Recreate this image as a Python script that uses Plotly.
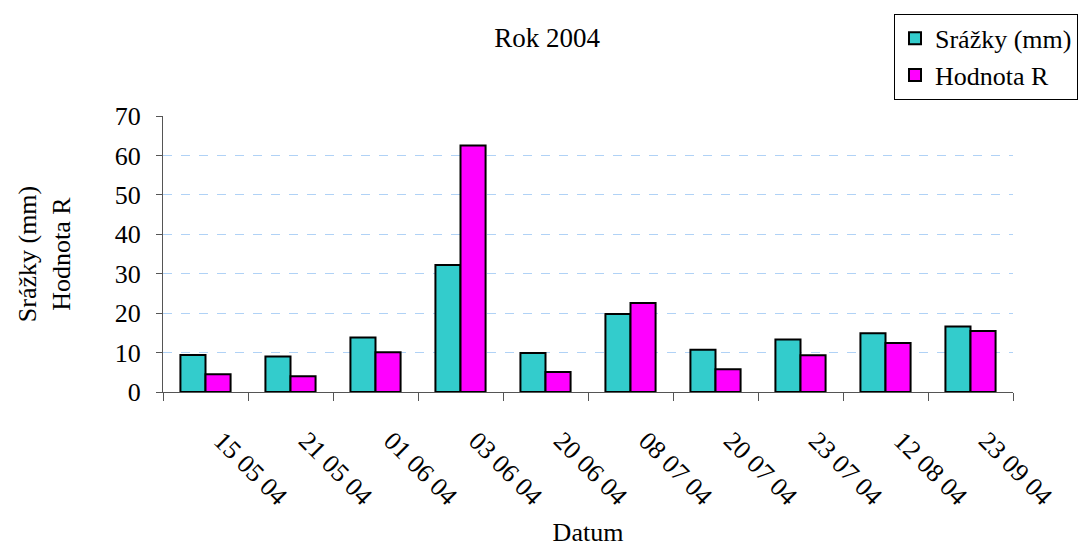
import plotly.graph_objects as go

# Dates of the measured rain events
datum = ["15 05 04", "21 05 04", "01 06 04", "03 06 04", "20 06 04",
         "08 07 04", "20 07 04", "23 07 04", "12 08 04", "23 09 04"]
# Precipitation totals (mm)
srazky = [9.4, 9.0, 13.8, 32.2, 9.9, 19.8, 10.7, 13.3, 14.9, 16.6]
# Rain erosivity factor R
hodnota_r = [4.5, 4.0, 10.1, 62.5, 5.1, 22.6, 5.8, 9.3, 12.4, 15.5]

y_ticks = [0, 10, 20, 30, 40, 50, 60, 70]

FONT = "Liberation Serif"
FS = 26

fig = go.Figure()
fig.add_trace(go.Bar(
    x=datum, y=srazky, name="Srážky (mm)", legendgroup="a",
    marker=dict(color="#33CCCC", line=dict(color="black", width=2)),
))
fig.add_trace(go.Bar(
    x=datum, y=hodnota_r, name="Hodnota R", legendgroup="b",
    marker=dict(color="#FF00FF", line=dict(color="black", width=2)),
))

fig.update_layout(
    width=1080, height=547,
    margin=dict(l=163, r=67, t=116, b=155, autoexpand=False),
    paper_bgcolor="white", plot_bgcolor="white",
    font=dict(family=FONT, size=FS, color="black"),
    barmode="group", bargap=0.41, bargroupgap=0,
    title=dict(text="Rok 2004", x=0.5065, xanchor="center", y=0.932, yanchor="middle",
               font=dict(family=FONT, size=27)),
    legend=dict(
        x=0.86, y=1.37, xanchor="left", yanchor="top",
        bordercolor="black", borderwidth=1, bgcolor="white",
        font=dict(family=FONT, size=FS), tracegroupgap=0,
        traceorder="grouped", itemwidth=30,
    ),
    xaxis=dict(
        type="category", tickangle=45, tickson="boundaries",
        ticks="outside", ticklen=8, tickcolor="#555555",
        showline=True, linecolor="#555555", linewidth=1,
        showgrid=False, ticklabelstandoff=22, ticklabelshift=16,
        automargin=False,
        tickfont=dict(family=FONT, size=FS),
        title=dict(text="Datum", font=dict(family=FONT, size=FS), standoff=23),
    ),
    yaxis=dict(
        range=[0, 70], tickvals=y_ticks, ticktext=[str(v) for v in y_ticks],
        ticks="outside", ticklen=6, tickcolor="#555555",
        showline=True, linecolor="#555555", linewidth=1,
        showgrid=True, gridcolor="#B0D2F6", griddash="dash", gridwidth=1,
        zeroline=False, tickfont=dict(family=FONT, size=FS), ticklabelstandoff=10,
        automargin=False,
        title=dict(text="Srážky (mm)<br>Hodnota R", font=dict(family=FONT, size=FS),
                   standoff=36),
    ),
)

fig.write_html("out.html")
